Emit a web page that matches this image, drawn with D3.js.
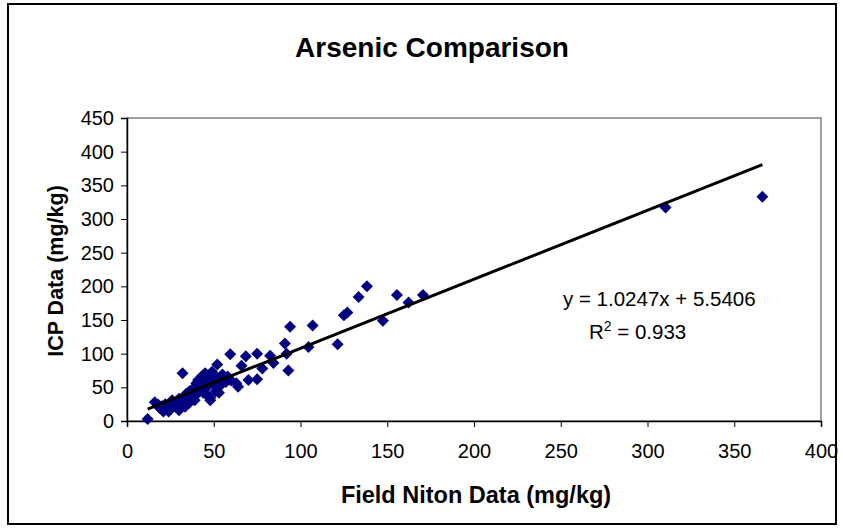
<!DOCTYPE html>
<html>
<head>
<meta charset="utf-8">
<script src="https://cdn.jsdelivr.net/npm/d3@7"></script>
<style>
  html, body { margin: 0; padding: 0; background: #fff; }
  svg { display: block; font-family: "Liberation Sans", Arial, sans-serif; }
</style>
</head>
<body>
<svg id="chart" width="843" height="529"></svg>
<script>
// Field Niton (x) vs ICP (y), mg/kg
const nitonX = [11.9, 16, 18, 19, 20, 21, 22, 23, 24, 25, 26, 27, 28, 29, 30, 30, 31.5, 32, 33, 33.5, 34, 35, 36, 36, 37, 38, 38, 39, 40, 40, 41, 41, 42, 43, 43, 44, 45, 45, 46, 46, 47, 48, 48, 48, 49, 50, 51, 52, 52, 53, 54, 55, 55, 57, 58, 59.5, 60, 63, 64, 66, 68.5, 70, 75, 75, 78, 82.5, 84.4, 91, 92, 93, 94, 104.6, 107, 121.4, 125, 127, 133.5, 138.3, 147.5, 155.6, 162.3, 170.6, 310.4, 366.2];
const icpY   = [3, 28, 24, 19, 22, 14, 25, 19, 14, 20, 31, 27, 21, 24, 16, 33, 29, 71, 30, 21, 40, 36, 27, 44, 34, 39, 48, 31, 56, 39, 61, 45, 48, 66, 52, 42, 71, 57, 39, 50, 63, 31, 61, 34, 73, 55, 44, 84, 64, 42, 53, 60, 69, 58, 66, 99, 60, 56, 51, 82, 96, 61, 100, 62, 78, 97, 86, 115, 100, 75, 140, 110, 142, 114, 157, 161, 184, 200, 149, 187, 176, 187, 317, 333];
const xTicks = [0, 50, 100, 150, 200, 250, 300, 350, 400];
const yTicks = [0, 50, 100, 150, 200, 250, 300, 350, 400, 450];
const slope = 1.0247, intercept = 5.5406;
const trendX = [11.9, 366.2];
const titleText = "Arsenic Comparison";
const xLabel = "Field Niton Data (mg/kg)";
const yLabel = "ICP Data (mg/kg)";

const svg = d3.select("#chart");
const pLeft = 127, pRight = 821, pTop = 118, pBottom = 421;

// outer border
svg.append("rect").attr("x", 8).attr("y", 4).attr("width", 828).attr("height", 520)
  .attr("fill", "#fff").attr("stroke", "#000").attr("stroke-width", 2);

const x = d3.scaleLinear().domain([0, 400]).range([pLeft, pRight]);
const y = d3.scaleLinear().domain([0, 450]).range([pBottom, pTop]);

// plot area frame (gray top/right)
svg.append("rect").attr("x", pLeft).attr("y", pTop).attr("width", pRight - pLeft).attr("height", pBottom - pTop)
  .attr("fill", "none").attr("stroke", "#808080").attr("stroke-width", 1.5);

// axes
const xAxis = svg.append("g").attr("transform", `translate(0,${pBottom})`)
  .call(d3.axisBottom(x).tickValues(xTicks).tickSize(6).tickPadding(17).tickFormat(d3.format("d")));
const yAxis = svg.append("g").attr("transform", `translate(${pLeft},0)`)
  .call(d3.axisLeft(y).tickValues(yTicks).tickSize(6).tickPadding(7).tickFormat(d3.format("d")));
[xAxis, yAxis].forEach(g => {
  g.select(".domain").attr("stroke", "#000").attr("stroke-width", 1.5);
  g.selectAll(".tick line").attr("stroke", "#000").attr("stroke-width", 1);
  g.selectAll(".tick text").attr("font-size", 20).attr("fill", "#000")
    .attr("font-family", "'Liberation Sans', Arial, sans-serif");
});

// points (diamonds = squares rotated 45°)
const marker = d3.symbol().type(d3.symbolSquare).size(72);
const pts = nitonX.map((v, i) => [v, icpY[i]]);
svg.append("g").selectAll("path").data(pts).join("path")
  .attr("d", marker)
  .attr("transform", d => `translate(${x(d[0])},${y(d[1])}) rotate(45)`)
  .attr("fill", "#000080");

// trend line
const line = d3.line().x(d => x(d)).y(d => y(slope * d + intercept));
svg.append("path").datum(trendX).attr("d", line)
  .attr("stroke", "#000").attr("stroke-width", 3).attr("fill", "none");

// title
svg.append("text").attr("x", 432).attr("y", 57).attr("text-anchor", "middle")
  .attr("font-size", 28).attr("font-weight", "bold").text(titleText);

// axis titles
svg.append("text").attr("x", 476).attr("y", 503).attr("text-anchor", "middle")
  .attr("font-size", 23.5).attr("font-weight", "bold").text(xLabel);
svg.append("text").attr("transform", "translate(63,271) rotate(-90)").attr("text-anchor", "middle")
  .attr("font-size", 21.5).attr("font-weight", "bold").text(yLabel);

// equation
svg.append("text").attr("x", 563).attr("y", 306).attr("text-anchor", "start")
  .attr("font-size", 20.5).text(`y = ${slope}x + ${intercept}`);
const r2 = svg.append("text").attr("x", 589).attr("y", 339).attr("text-anchor", "start")
  .attr("font-size", 20.5);
r2.append("tspan").text("R");
r2.append("tspan").attr("font-size", 14).attr("dy", -8).text("2");
r2.append("tspan").attr("dy", 8).text(" = 0.933");
</script>
</body>
</html>
